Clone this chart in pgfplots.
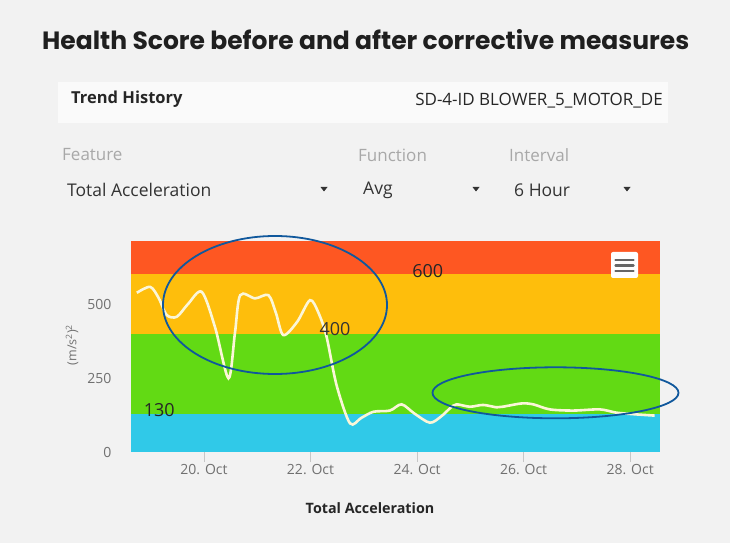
\documentclass[border=0pt]{standalone}
\usepackage{pgfplots}
\pgfplotsset{compat=1.18}
\usepackage{fontspec}
\setmainfont{Open Sans}
\newfontfamily\poppins{Poppins}
\definecolor{bg}{HTML}{F2F2F2}
\definecolor{bandcyan}{HTML}{30C9E8}
\definecolor{bandgreen}{HTML}{62DA14}
\definecolor{bandyellow}{HTML}{FEBE0C}
\definecolor{bandred}{HTML}{FE5722}
\definecolor{linecol}{HTML}{FBF6D8}
\definecolor{ellblue}{RGB}{16,88,156}
\definecolor{ticktxt}{HTML}{707070}
\definecolor{lighttxt}{HTML}{A8A8A8}
\pgfplotstableread{
x y
18.74 538
18.99 558
19.15 520
19.30 463
19.49 457
19.70 500
19.96 541
20.21 420
20.46 249
20.58 400
20.68 530
20.96 519
21.21 530
21.35 470
21.49 395
21.75 440
21.99 513
22.15 470
22.30 390
22.49 225
22.74 97
22.95 115
23.18 136
23.49 140
23.71 161
23.95 130
24.24 99
24.45 120
24.62 148
24.74 161
24.99 153
25.24 159
25.49 151
25.61 153
25.96 164
26.18 161
26.49 144
26.93 140
27.43 144
27.74 133
28.12 127
28.46 123
}\trend
\begin{document}
\begin{tikzpicture}[x=1pt,y=1pt]
\fill[bg] (0,0) rectangle (730,543);
% title
\node[anchor=west, inner sep=0, text=black!88] at (42,503) {\poppins\bfseries\fontsize{25}{29}\selectfont Health Score before and after corrective measures};
% header box
\fill[white!60!bg] (58,543-82) rectangle (668,543-123);
\node[anchor=west, inner sep=0, text=black!85] at (71,543-99) {\fontsize{16.5}{19}\selectfont\bfseries Trend History};
\node[anchor=east, inner sep=0, text=black!85] at (663,543-101) {\fontsize{17}{20}\selectfont SD-4-ID BLOWER\_5\_MOTOR\_DE};
% selectors
\node[anchor=west, inner sep=0, text=lighttxt] at (62,543-155) {\fontsize{17}{20}\selectfont Feature};
\node[anchor=west, inner sep=0, text=lighttxt] at (358,543-155) {\fontsize{17}{20}\selectfont Function};
\node[anchor=west, inner sep=0, text=lighttxt] at (509,543-155) {\fontsize{17}{20}\selectfont Interval};
\node[anchor=west, inner sep=0, text=black!80] at (67,543-190) {\fontsize{17.5}{20}\selectfont Total Acceleration};
\node[anchor=west, inner sep=0, text=black!80] at (363,543-190) {\fontsize{17.5}{20}\selectfont Avg};
\node[anchor=west, inner sep=0, text=black!80] at (514,543-190) {\fontsize{17.5}{20}\selectfont 6 Hour};
\foreach \ax in {324,476,627}{
  \fill[black!80] (\ax-3.5,543-187) -- (\ax+3.5,543-187) -- (\ax,543-191.5) -- cycle;
}
\begin{axis}[
  at={(131pt,91pt)}, anchor=south west,
  scale only axis, width=529pt, height=211pt,
  xmin=18.63, xmax=28.56, ymin=0, ymax=713,
  axis line style={draw=none},
  xtick={20,22,24,26,28},
  xticklabels={20. Oct,22. Oct,24. Oct,26. Oct,28. Oct},
  ytick={0,250,500},
  xtick pos=bottom,
  tick align=outside,
  major tick length=10pt,
  x tick style={draw=black!22, line width=0.8pt},
  y tick style={draw=none},
  tick label style={font=\fontsize{14}{16}\selectfont, text=ticktxt},
  /pgf/number format/assume math mode=true,
  y tick label style={xshift=-6pt},
  x tick label style={yshift=1pt},
  clip=false,
]
\fill[bandcyan] (axis cs:18.63,0) rectangle (axis cs:28.56,130);
\fill[bandgreen] (axis cs:18.63,130) rectangle (axis cs:28.56,400);
\fill[bandyellow] (axis cs:18.63,400) rectangle (axis cs:28.56,600);
\fill[bandred] (axis cs:18.63,600) rectangle (axis cs:28.56,713);
\node[text=black!85] at (axis cs:24.20,611) {\fontsize{18}{20}\selectfont 600};
\node[text=black!85] at (axis cs:19.16,142) {\fontsize{18}{20}\selectfont 130};
\addplot[linecol, line width=2.6pt, smooth, tension=0.5] table[x=x,y=y] {\trend};
\node[text=black!80] at (axis cs:22.46,415) {\fontsize{18}{20}\selectfont 400};
\end{axis}
% y label
\node[rotate=90, text=ticktxt] at (72,543-345) {\fontsize{12.5}{14}\selectfont (m/s\textsuperscript{2})\textsuperscript{2}};
% x label
\node[text=black!85] at (370,543-508) {\fontsize{14.3}{16}\selectfont\bfseries Total Acceleration};
% menu icon
\fill[white!92!bg, rounded corners=2pt] (611,543-252) rectangle (638,543-278);
\foreach \yy in {260,265.5,271}{
  \draw[black!60, line width=2.4pt, line cap=round] (615.5,543-\yy) -- (633.5,543-\yy);
}
% annotations
\draw[ellblue, line width=1.8pt] (275,543-305) ellipse (112 and 69);
\draw[ellblue, line width=1.8pt] (555.5,543-392.8) ellipse (123 and 25.5);
\end{tikzpicture}
\end{document}
